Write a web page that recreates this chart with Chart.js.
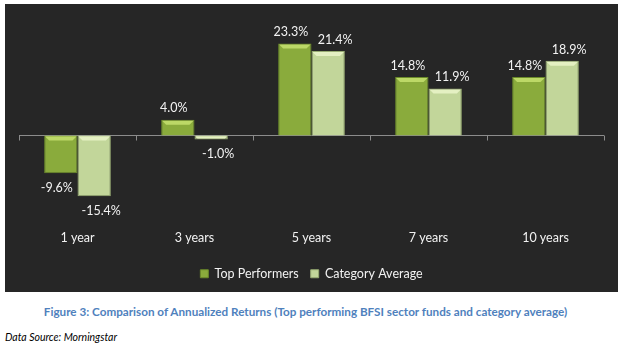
<!DOCTYPE html>
<html>
<head>
<meta charset="utf-8">
<script src="https://cdn.jsdelivr.net/npm/chart.js@4"></script>
<style>
  body { margin: 0; background: #fff; width: 623px; height: 350px; position: relative; overflow: hidden; }
  #panel { position: absolute; left: 5px; top: 4px; width: 613px; height: 288px; background: #262626; }
  #caption { position: absolute; left: 0; width: 611px; top: 304px; text-align: center;
             font: bold 11.7px Lato, sans-serif; color: #4f81bd; }
  #source { position: absolute; left: 5px; top: 331px; font: italic 10.5px Lato, sans-serif; color: #000; }
</style>
</head>
<body>
<div id="panel"><canvas id="returnsChart"></canvas></div>
<div id="caption">Figure 3: Comparison of Annualized Returns (Top performing BFSI sector funds and category average)</div>
<div id="source">Data Source: Morningstar</div>
<script>
const periods = ['1 year', '3 years', '5 years', '7 years', '10 years'];
const topPerformers = [-9.6, 4.0, 23.3, 14.8, 14.8];
const categoryAverage = [-15.4, -1.0, 21.4, 11.9, 18.9];

const ctx = document.getElementById('returnsChart').getContext('2d');

// zero line with excel style tick marks at category boundaries
const zeroAxis = {
    id: 'zeroAxis',
    beforeDatasetsDraw(chart) {
        const c = chart.ctx;
        const area = chart.chartArea;
        const y0 = Math.round(chart.scales.y.getPixelForValue(0)) + 0.5;
        const n = periods.length;
        const step = (area.right - area.left) / n;
        c.save();
        c.strokeStyle = '#8c8c8c';
        c.lineWidth = 1;
        c.beginPath();
        c.moveTo(area.left, y0);
        c.lineTo(area.right, y0);
        for (let i = 0; i <= n; i++) {
            const x = Math.round(area.left + i * step) + 0.5;
            c.moveTo(x, y0);
            c.lineTo(x, y0 + 5);
        }
        c.stroke();
        c.restore();
    }
};

// bevel highlight on bar tops and value labels
const barLabels = {
    id: 'barLabels',
    afterDatasetsDraw(chart) {
        const c = chart.ctx;
        c.save();
        chart.data.datasets.forEach((ds, i) => {
            const meta = chart.getDatasetMeta(i);
            meta.data.forEach((bar, j) => {
                const v = ds.data[j];
                const half = bar.width / 2;
                const top = Math.min(bar.y, bar.base);
                const h = Math.abs(bar.base - bar.y);
                const b = Math.min(4, h / 2);
                c.fillStyle = ds.bevelColor;
                c.beginPath();
                c.moveTo(bar.x - half + 1, top + 1);
                c.lineTo(bar.x + half - 1, top + 1);
                c.lineTo(bar.x + half - 1 - b, top + 1 + b);
                c.lineTo(bar.x - half + 1 + b, top + 1 + b);
                c.closePath();
                c.fill();

                // excel pushes the two labels of a group apart a little
                const lx = bar.x + ds.labelShift;
                c.fillStyle = '#f2f2f2';
                c.font = '12.5px Lato, sans-serif';
                c.textAlign = 'center';
                if (v >= 0) {
                    c.textBaseline = 'bottom';
                    c.fillText(v.toFixed(1) + '%', lx, bar.y - 5);
                } else {
                    c.textBaseline = 'top';
                    c.fillText(v.toFixed(1) + '%', lx, bar.y + 8);
                }
            });
        });
        c.restore();
    }
};

const chart = new Chart(ctx, {
    type: 'bar',
    data: {
        labels: periods,
        datasets: [{
            label: 'Top Performers',
            data: topPerformers,
            backgroundColor: '#8aab3c',
            borderColor: '#6b8a2a',
            bevelColor: '#bcd867',
            labelShift: -4,
            borderWidth: 1,
            barPercentage: 1,
            categoryPercentage: 0.57
        }, {
            label: 'Category Average',
            data: categoryAverage,
            backgroundColor: '#c2d69a',
            borderColor: '#97ab72',
            bevelColor: '#e4f0c2',
            labelShift: 7,
            borderWidth: 1,
            barPercentage: 1,
            categoryPercentage: 0.57
        }]
    },
    options: {
        animation: false,
        responsive: true,
        maintainAspectRatio: false,
        layout: {
            padding: { left: 14, right: 14, top: 13, bottom: 2 }
        },
        scales: {
            x: {
                grid: { display: false },
                border: { display: false },
                ticks: {
                    color: '#f2f2f2',
                    font: { family: 'Lato', size: 12.5 },
                    padding: 16
                },
                afterFit(scale) {
                    scale.height = 49;
                }
            },
            y: {
                display: false,
                min: -18,
                max: 30
            }
        },
        plugins: {
            legend: {
                position: 'bottom',
                labels: {
                    color: '#f2f2f2',
                    font: { family: 'Lato', size: 12.5 },
                    boxWidth: 8,
                    boxHeight: 8,
                    padding: 12
                }
            },
            tooltip: { enabled: false }
        }
    },
    plugins: [zeroAxis, barLabels]
});
</script>
</body>
</html>
